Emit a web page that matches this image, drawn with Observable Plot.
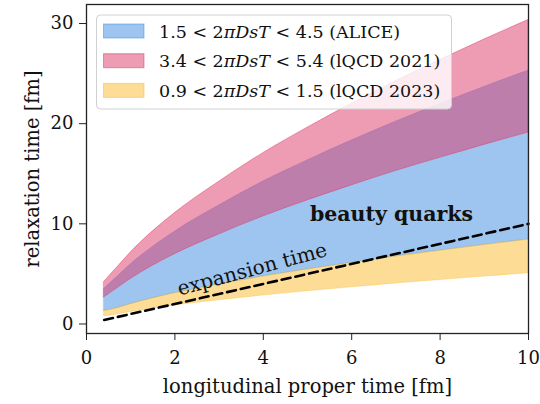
<!DOCTYPE html>
<html>
<head>
<meta charset="utf-8">
<script src="https://cdn.jsdelivr.net/npm/d3@7"></script>
<script src="https://cdn.jsdelivr.net/npm/@observablehq/plot@0.6"></script>
<style>
  html, body { margin: 0; padding: 0; background: #fff; }
  #chart { width: 540px; height: 404px; }
  #chart svg text { font-family: "DejaVu Serif", serif; }
</style>
</head>
<body>
<div id="chart"></div>
<script>
// longitudinal proper time [fm]
const tau        = [0.4, 0.7, 1, 2, 3, 4, 5, 6, 7, 8, 9, 10];
// ALICE 1.5 < 2πDsT < 4.5
const aliceLow   = [1.3, 1.58, 1.98, 3.08, 3.95, 4.74, 5.45, 6.1, 6.74, 7.32, 7.89, 8.43];
const aliceHigh  = [3.5, 4.72, 5.94, 9.22, 11.83, 14.22, 16.33, 18.31, 20.2, 21.96, 23.67, 25.29];
// lQCD 2021 3.4 < 2πDsT < 5.4
const lqcd21Low  = [2.65, 3.57, 4.49, 6.97, 8.94, 10.74, 12.34, 13.84, 15.27, 16.59, 17.88, 19.11];
const lqcd21High = [4.2, 5.67, 7.13, 11.07, 14.2, 17.06, 19.6, 21.98, 24.25, 26.35, 28.4, 30.35];
// lQCD 2023 0.9 < 2πDsT < 1.5
const lqcd23Low  = [0.78, 0.95, 1.19, 1.85, 2.37, 2.84, 3.27, 3.66, 4.04, 4.39, 4.73, 5.06];
const lqcd23High = [1.3, 1.58, 1.98, 3.08, 3.95, 4.74, 5.45, 6.1, 6.74, 7.32, 7.89, 8.43];
// expansion time line
const expTau  = [0.4, 10];
const expTime = [0.4, 10];
// ticks
const xTicks = [0, 2, 4, 6, 8, 10];
const yTicks = [0, 10, 20, 30];
// legend labels
const legendItems = [
  {pre: "1.5 < 2", it: "πDsT", post: " < 4.5 (ALICE)", color: "#3d8be0"},
  {pre: "3.4 < 2", it: "πDsT", post: " < 5.4 (lQCD 2021)", color: "#dd3769"},
  {pre: "0.9 < 2", it: "πDsT", post: " < 1.5 (lQCD 2023)", color: "#fbb92d"}
];

const band = (lo, hi) => tau.map((t, i) => ({t, lo: lo[i], hi: hi[i]}));
const alice = band(aliceLow, aliceHigh);
const l21 = band(lqcd21Low, lqcd21High);
const l23 = band(lqcd23Low, lqcd23High);
const expData = expTau.map((t, i) => ({t, v: expTime[i]}));

const FONT = "DejaVu Serif, serif";

const chart = Plot.plot({
  width: 540,
  height: 404,
  marginLeft: 86,
  marginRight: 12,
  marginTop: 4,
  marginBottom: 71,
  style: {fontFamily: FONT, fontSize: "18px", color: "#111", background: "#fff"},
  x: {domain: [0, 10]},
  y: {domain: [-0.95, 31.9]},
  marks: [
    Plot.areaY(alice, {x: "t", y1: "lo", y2: "hi", fill: "#3d8be0", fillOpacity: 0.5, stroke: "#3d8be0", strokeOpacity: 0.35, strokeWidth: 1, curve: "monotone-x"}),
    Plot.areaY(l21, {x: "t", y1: "lo", y2: "hi", fill: "#dd3769", fillOpacity: 0.5, stroke: "#dd3769", strokeOpacity: 0.45, strokeWidth: 1, curve: "monotone-x"}),
    Plot.areaY(l23, {x: "t", y1: "lo", y2: "hi", fill: "#fbb92d", fillOpacity: 0.5, stroke: "#fbb92d", strokeOpacity: 0.35, strokeWidth: 1, curve: "monotone-x"}),
    Plot.line(expData, {x: "t", y: "v", stroke: "#000", strokeWidth: 2.6, strokeDasharray: "9,5"}),
    Plot.text(["beauty quarks"], {x: 6.9, y: 10.9, fontWeight: "bold", fontSize: 20.5, fill: "#111"}),
    Plot.text(["expansion time"], {x: 3.75, y: 5.45, rotate: -15, fontSize: 20, fill: "#111"}),
    Plot.axisX({ticks: xTicks, tickSize: 7, tickPadding: 11, fontSize: 18, label: null, stroke: "#222"}),
    Plot.axisY({ticks: yTicks, tickSize: 7, tickPadding: 6, fontSize: 18, label: null, stroke: "#222"}),
    Plot.text(["longitudinal proper time [fm]"], {frameAnchor: "bottom", dy: 59, fontSize: 19.5, fill: "#111"}),
    Plot.text(["relaxation time [fm]"], {frameAnchor: "left", textAnchor: "middle", dx: -54, rotate: -90, fontSize: 19.5, fill: "#111"}),
    Plot.frame({stroke: "#222", strokeWidth: 1.3})
  ]
});

// legend inside the frame
const svg = d3.select(chart);
const g = svg.append("g").attr("font-family", FONT).attr("font-size", 17.5).attr("fill", "#111").attr("text-anchor", "start");
g.append("rect").attr("x", 96.5).attr("y", 15).attr("width", 355).attr("height", 94)
  .attr("rx", 4).attr("fill", "#fff").attr("fill-opacity", 0.8).attr("stroke", "#d0d0d0");
legendItems.forEach((d, i) => {
  const y0 = 24 + i * 29.7;
  g.append("rect").attr("x", 103.5).attr("y", y0).attr("width", 40.5).attr("height", 14)
    .attr("fill", d.color).attr("fill-opacity", 0.5).attr("stroke", d.color).attr("stroke-opacity", 0.5);
  const t = g.append("text").attr("x", 159).attr("y", y0 + 13.5).attr("text-anchor", "start");
  t.append("tspan").text(d.pre);
  t.append("tspan").attr("font-style", "italic").text(d.it);
  t.append("tspan").text(d.post);
});

document.getElementById("chart").appendChild(chart);
</script>
</body>
</html>
